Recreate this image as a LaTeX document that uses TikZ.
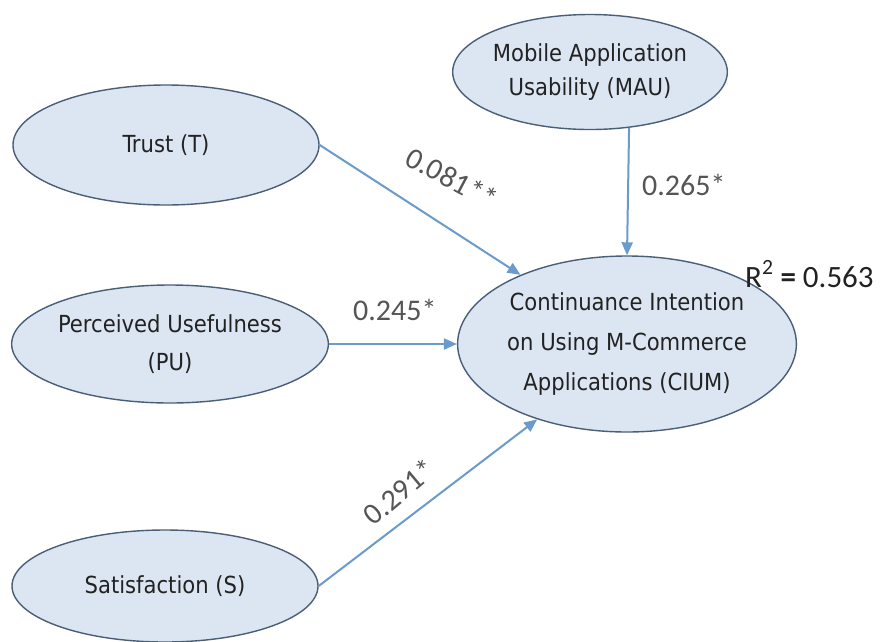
\documentclass[tikz,border=0pt]{standalone}
\usepackage{fontspec}
\usetikzlibrary{shapes.geometric,arrows.meta}
\newfontfamily\ellfont{DejaVu Sans Condensed}
\newfontfamily\coeffont{Carlito}
\definecolor{ellfill}{HTML}{DCE6F2}
\definecolor{elldraw}{HTML}{4B5E78}
\definecolor{pathblue}{HTML}{6A9BCB}
\definecolor{txt}{HTML}{222222}
\definecolor{coeftxt}{HTML}{555555}
\tikzset{
  construct/.style={ellipse, draw=elldraw, fill=ellfill, line width=1.4pt,
    inner sep=0pt, align=center, text=txt,
    font=\ellfont\fontsize{23.5}{38}\selectfont},
  path arrow/.style={draw=pathblue, line width=2pt,
    -{Triangle[length=13pt,width=11pt]}},
  coef/.style={text=coeftxt, inner sep=0pt, font=\coeffont\fontsize{30}{34}\selectfont}
}
\begin{document}
\begin{tikzpicture}[x=1pt,y=-1pt]
  \fill[white] (0,0) rectangle (889,641);
  \useasboundingbox (0,0) rectangle (889,641);

  % constructs
  \node[construct, minimum width=306pt, minimum height=120pt] (T) at (166,145) {Trust (T)};
  \node[construct, minimum width=240pt, minimum height=115pt,
        font=\ellfont\fontsize{23.5}{34}\selectfont] (M) at (590,72)
        {Mobile Application\\Usability (MAU)};
  \node[construct, minimum width=315pt, minimum height=118pt] (P) at (170,344)
        {Perceived Usefulness\\(PU)};
  \node[construct, minimum width=316pt, minimum height=176pt,
        font=\ellfont\fontsize{23.5}{40}\selectfont] (C) at (627,344)
        {Continuance Intention\\on Using M-Commerce\\Applications (CIUM)};
  \node[construct, minimum width=306pt, minimum height=112pt] (S) at (165,586)
        {Satisfaction (S)};

  % structural paths
  \draw[path arrow] (T.east) -- (C.147.6);
  \draw[path arrow] (M.-55.9) -- (C.north);
  \draw[path arrow] (P.east) -- (C.west);
  \draw[path arrow] (S.east) -- (C.220);

  % path coefficients
  \node[coef, rotate=-28] (cT) at (452,178) {0.081**};
  \node[coef, anchor=base west] (cM) at (642,195) {0.265*};
  \node[coef, anchor=base west] (cP) at (353,320) {0.245*};
  \node[coef, rotate=40] (cS) at (399,492) {0.291*};
  \node[coef, anchor=base west, text=txt, font=\coeffont\fontsize{31}{36}\selectfont] (r2)
        at (745,287) {R\textsuperscript{\raisebox{3pt}{2}} {\bfseries =} 0.563};
\end{tikzpicture}
\end{document}
